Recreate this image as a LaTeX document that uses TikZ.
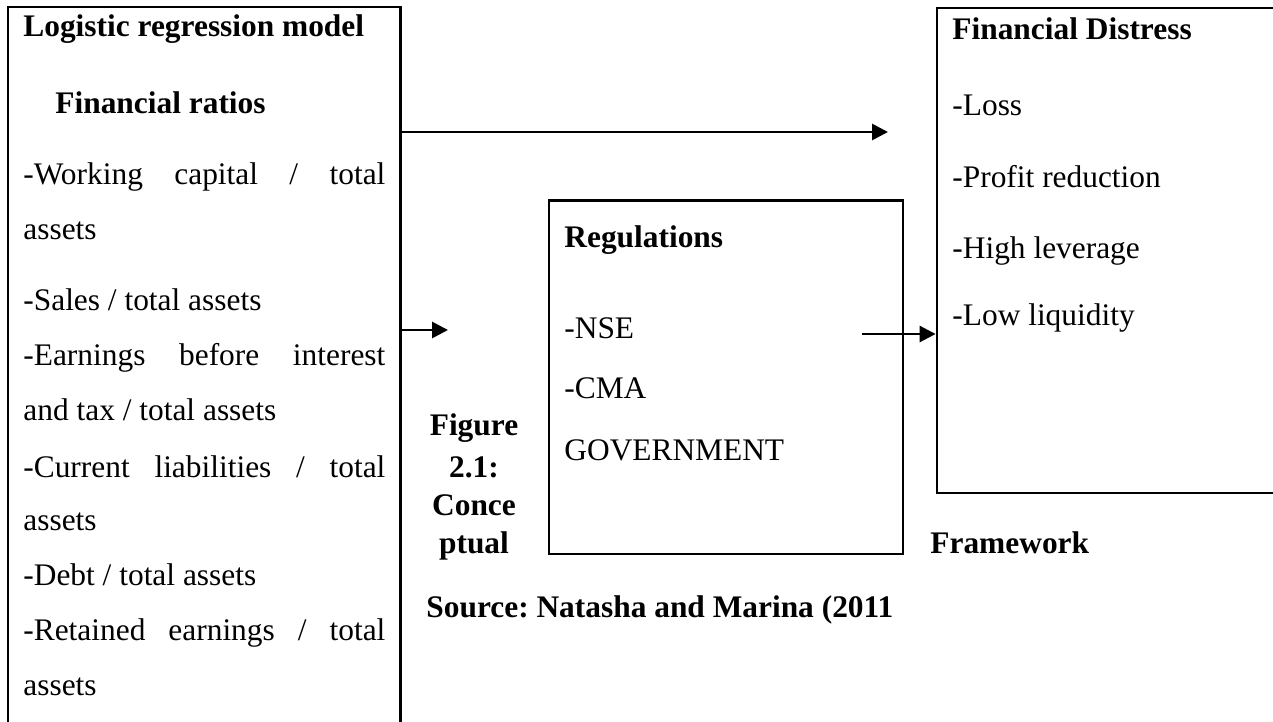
\documentclass[tikz,border=0pt]{standalone}
\usepackage{fontspec}
\setmainfont{Liberation Serif}
\usetikzlibrary{arrows.meta,fit}
\frenchspacing

\begin{document}
\begin{tikzpicture}[x=0.5pt, y=-0.5pt, box/.style={draw, line width=1.4pt, inner sep=0pt}, ln/.style={anchor=base west, inner sep=0pt, font=\fontsize{15.7}{18}\selectfont}, hd/.style={ln, font=\fontsize{15.7}{18}\selectfont\bfseries}, figline/.style={hd, anchor=base}, arr/.style={-{Triangle[length=8pt, width=8pt]}, line width=1.4pt}]
            \path[use as bounding box, clip] (0,0) rectangle (1273,722);
            % boxes
            \node[box, fit={(8,7) (400.5,760)}] (lbox) {};
            \node[box, fit={(549,200.5) (903,554)}] (regbox) {};
            \node[box, fit={(937,8) (1290,493)}] (fdbox) {};
            % left box text
            \node[hd] (lhead) at (23,37) {Logistic regression model};
            \node[hd] (lsub) at (55,113) {Financial ratios};
            \node[ln] (r1) at (23,184) {\makebox[181pt][s]{-Working capital / total}};
            \node[ln] (r2) at (23,239) {assets};
            \node[ln] (r3) at (23,310) {-Sales / total assets};
            \node[ln] (r4) at (23,365) {\makebox[181pt][s]{-Earnings before interest}};
            \node[ln] (r5) at (23,420) {and tax / total assets};
            \node[ln] (r6) at (23,477) {\makebox[181pt][s]{-Current liabilities / total}};
            \node[ln] (r7) at (23,530) {assets};
            \node[ln] (r8) at (23,585) {-Debt / total assets};
            \node[ln] (r9) at (23,640) {\makebox[181pt][s]{-Retained earnings / total}};
            \node[ln] (r10) at (23,695) {assets};
            % regulations box text
            \node[hd] (reghead) at (564,247) {Regulations};
            \node[ln] (nse) at (564,338) {-NSE};
            \node[ln] (cma) at (564,398) {-CMA};
            \node[ln] (gov) at (564,460) {GOVERNMENT};
            % distress box text
            \node[hd] (fdhead) at (952,40) {Financial Distress};
            \node[ln] (loss) at (952,115) {-Loss};
            \node[ln] (profit) at (952,187) {-Profit reduction};
            \node[ln] (lever) at (952,258) {-High leverage};
            \node[ln] (liquid) at (952,325) {-Low liquidity};
            % caption
            \node[figline] (fig1) at (474,435) {Figure};
            \node[figline] (fig2) at (474,477) {2.1:};
            \node[figline] (fig3) at (474,515) {Conce};
            \node[figline] (fig4) at (474,553) {ptual};
            \node[hd] (frame) at (930,553) {Framework};
            \node[hd] (source) at (426,617) {Source: Natasha and Marina (2011};
            % arrows
            \coordinate (tip1) at (888,132);
            \coordinate (tip2) at (448,330);
            \coordinate (tail3) at (862,334);
            \draw[arr] (lbox.east |- tip1) -- (tip1);
            \draw[arr] (lbox.east |- tip2) -- (tip2);
            \draw[arr] (tail3) -- (fdbox.west |- tail3);
        \end{tikzpicture}
\end{document}
